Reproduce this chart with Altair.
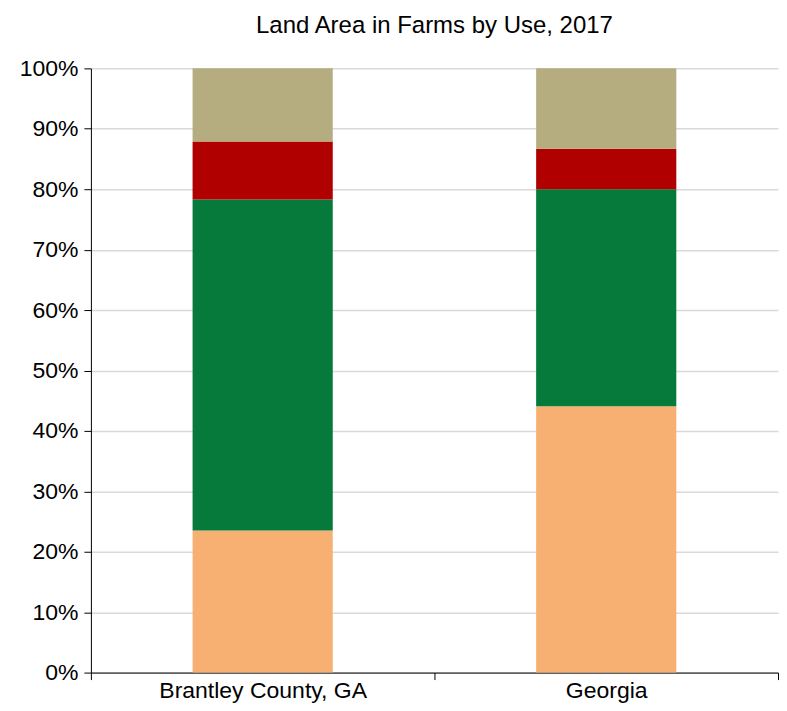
import altair as alt
import pandas as pd

regions = ["Brantley County, GA", "Georgia"]
uses = ["Cropland", "Woodland", "Pastureland", "Other uses"]
colors = ["#F8B072", "#057A3A", "#B00000", "#B5AD80"]
brantley = [0.235, 0.548, 0.096, 0.121]
georgia = [0.441, 0.359, 0.067, 0.133]

rows = []
for r, vals in zip(regions, [brantley, georgia]):
    for i, (u, v) in enumerate(zip(uses, vals)):
        rows.append({"region": r, "use": u, "share": v, "idx": i})
df = pd.DataFrame(rows)

chart = alt.Chart(df).mark_bar(width=alt.RelativeBandSize(0.408)).encode(
    x=alt.X("region:N", sort=regions, title=None,
            scale=alt.Scale(paddingInner=0, paddingOuter=0),
            axis=alt.Axis(labelAngle=0, tickBand="extent", domainColor="black",
                          tickColor="black", tickSize=7, labelFontSize=23,
                          labelColor="black", labelFont="Liberation Sans",
                          labelPadding=0, labelLimit=500, grid=False)),
    y=alt.Y("share:Q", stack="zero", title=None,
            scale=alt.Scale(domain=[0, 1], nice=False),
            axis=alt.Axis(format=".0%", values=[i / 10 for i in range(11)],
                          domainColor="black", tickColor="black", tickSize=7,
                          labelFontSize=23, labelColor="black",
                          labelFont="Liberation Sans", labelPadding=6,
                          gridColor="#d9d9d9", gridWidth=1.5)),
    color=alt.Color("use:N", sort=uses, legend=None,
                    scale=alt.Scale(domain=uses, range=colors)),
    order=alt.Order("idx:Q", sort="ascending"),
).properties(
    width=688, height=605,
    title=alt.TitleParams("Land Area in Farms by Use, 2017", fontSize=24,
                          fontWeight="normal", font="Liberation Sans",
                          color="black", offset=19),
    padding={"left": 11, "top": 6, "right": 0, "bottom": 0},
).configure_view(stroke=None)

chart.save("out.html", embed_options={"renderer": "svg", "actions": False})
